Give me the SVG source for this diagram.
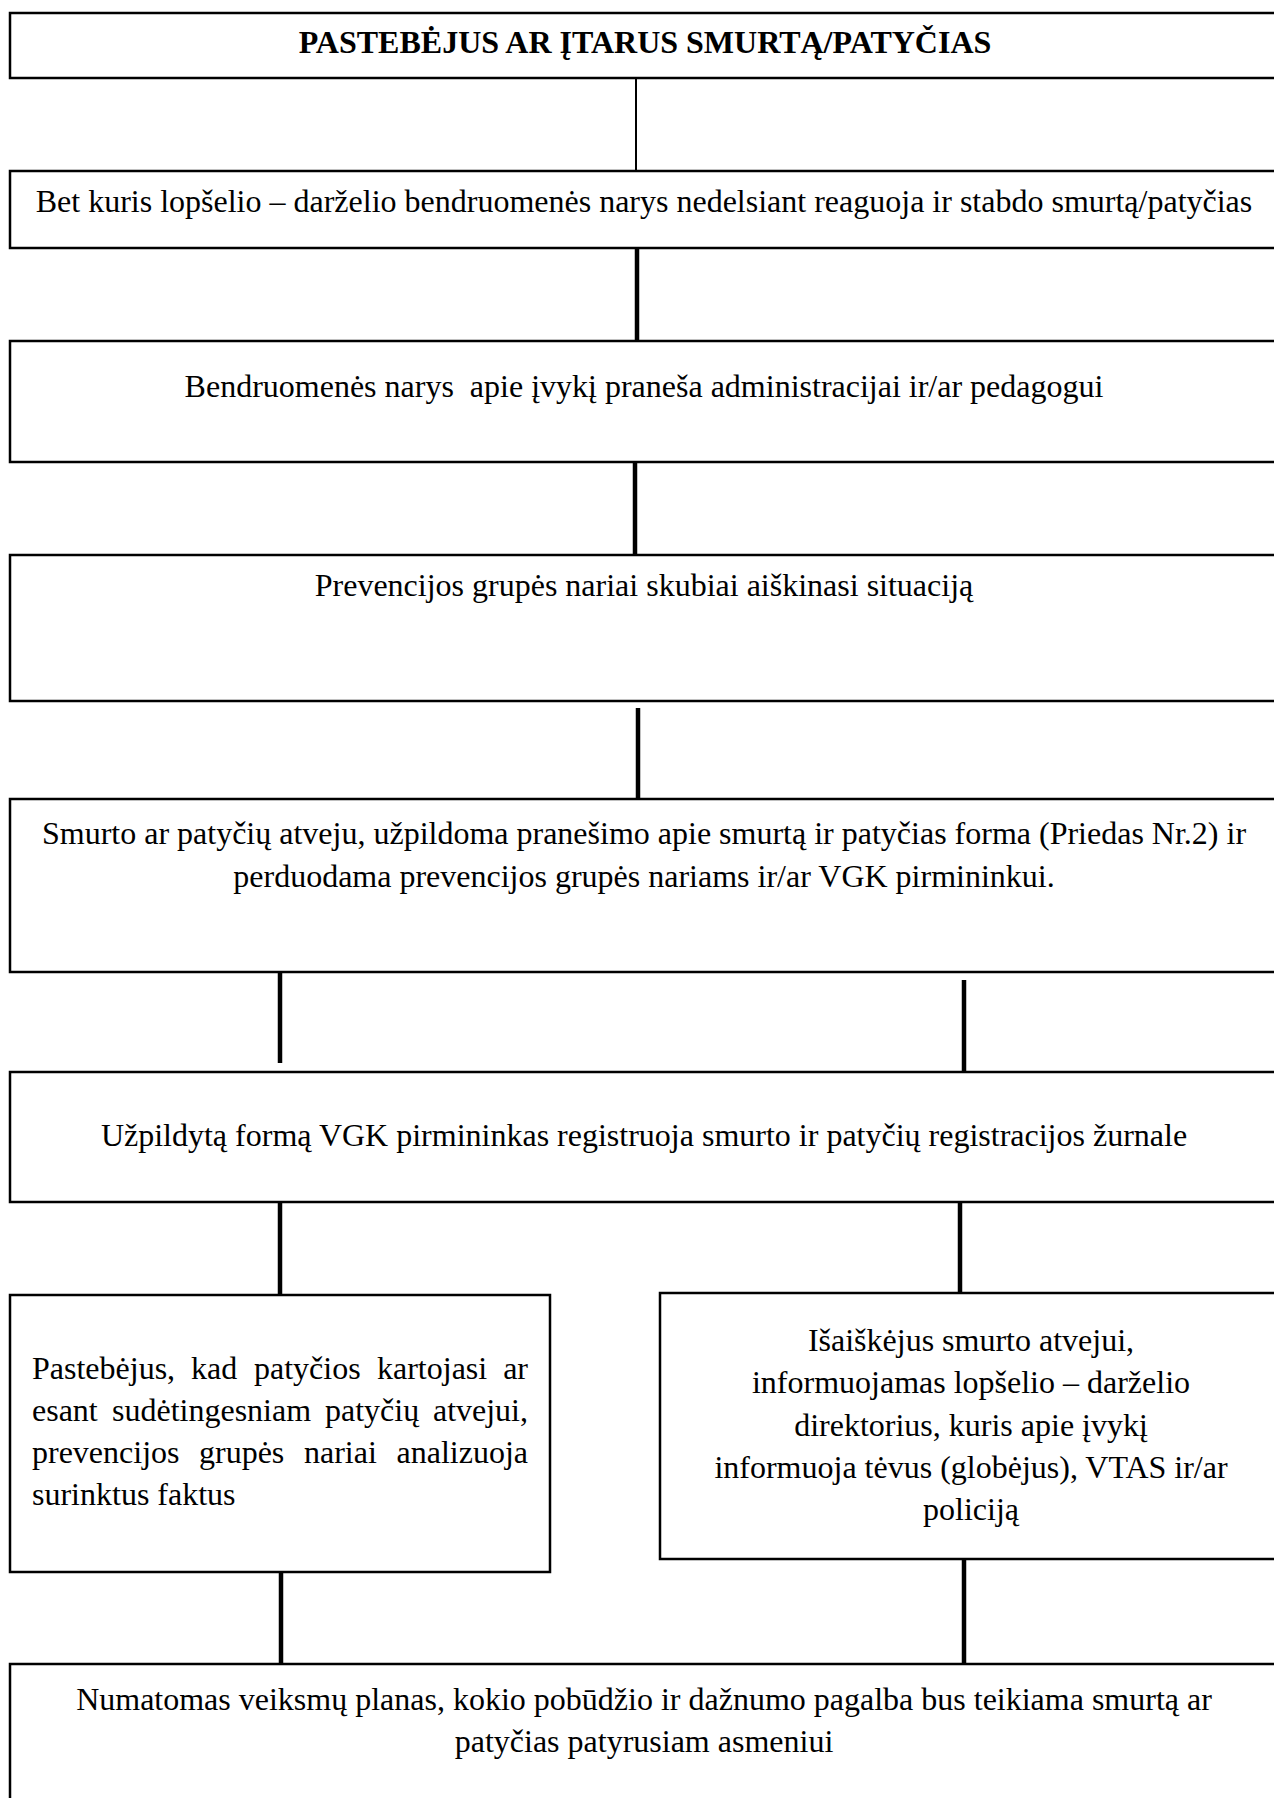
<svg xmlns="http://www.w3.org/2000/svg" width="1274" height="1798" viewBox="0 0 1274 1798">
<style>
.box{fill:#fff;stroke:#000;stroke-width:2.5}
.t{font-family:"Liberation Serif","Times New Roman",serif;font-size:32px;fill:#000}
.c{text-anchor:middle}
.b{font-weight:bold}
.ln{stroke:#000;stroke-width:4.5;fill:none}
.thin{stroke-width:2}
</style>
<rect width="1274" height="1798" fill="#fff"/>
<g id="connectors">
<line class="ln thin" x1="636" y1="78" x2="636" y2="171"/>
<line class="ln" x1="637" y1="248" x2="637" y2="341"/>
<line class="ln" x1="635" y1="462" x2="635" y2="555"/>
<line class="ln" x1="638" y1="708" x2="638" y2="799"/>
<line class="ln" x1="280" y1="972" x2="280" y2="1063"/>
<line class="ln" x1="964" y1="980" x2="964" y2="1072"/>
<line class="ln" x1="280" y1="1202" x2="280" y2="1295"/>
<line class="ln" x1="960" y1="1202" x2="960" y2="1293"/>
<line class="ln" x1="281" y1="1572" x2="281" y2="1664"/>
<line class="ln" x1="964" y1="1559" x2="964" y2="1664"/>
</g>
<g id="n1">
<rect class="box" x="10" y="13" width="1275" height="65"/>
<text class="t b c" x="645" y="53">PASTEBĖJUS AR ĮTARUS SMURTĄ/PATYČIAS</text>
</g>
<g id="n2">
<rect class="box" x="10" y="171" width="1275" height="77"/>
<text class="t c" x="644" y="212">Bet kuris lopšelio – darželio bendruomenės narys nedelsiant reaguoja ir stabdo smurtą/patyčias</text>
</g>
<g id="n3">
<rect class="box" x="10" y="341" width="1275" height="121"/>
<text class="t c" x="644" y="397" xml:space="preserve">Bendruomenės narys  apie įvykį praneša administracijai ir/ar pedagogui</text>
</g>
<g id="n4">
<rect class="box" x="10" y="555" width="1275" height="146"/>
<text class="t c" x="644" y="596">Prevencijos grupės nariai skubiai aiškinasi situaciją</text>
</g>
<g id="n5">
<rect class="box" x="10" y="799" width="1275" height="173"/>
<text class="t c" x="644" y="844">Smurto ar patyčių atveju, užpildoma pranešimo apie smurtą ir patyčias forma (Priedas Nr.2) ir</text>
<text class="t c" x="644" y="887">perduodama prevencijos grupės nariams ir/ar VGK pirmininkui.</text>
</g>
<g id="n6">
<rect class="box" x="10" y="1072" width="1275" height="130"/>
<text class="t c" x="644" y="1146">Užpildytą formą VGK pirmininkas registruoja smurto ir patyčių registracijos žurnale</text>
</g>
<g id="n7">
<rect class="box" x="10" y="1295" width="540" height="277"/>
<text class="t" y="1379"><tspan x="32">Pastebėjus,</tspan><tspan x="191">kad</tspan><tspan x="254">patyčios</tspan><tspan x="377">kartojasi</tspan><tspan x="528" text-anchor="end">ar</tspan></text>
<text class="t" y="1421"><tspan x="32">esant</tspan><tspan x="112">sudėtingesniam</tspan><tspan x="325">patyčių</tspan><tspan x="528" text-anchor="end">atvejui,</tspan></text>
<text class="t" y="1463"><tspan x="32">prevencijos</tspan><tspan x="199">grupės</tspan><tspan x="304">nariai</tspan><tspan x="528" text-anchor="end">analizuoja</tspan></text>
<text class="t" x="32" y="1505">surinktus faktus</text>
</g>
<g id="n8">
<rect class="box" x="660" y="1293" width="625" height="266"/>
<text class="t c" x="971" y="1351">Išaiškėjus smurto atvejui,</text>
<text class="t c" x="971" y="1393">informuojamas lopšelio – darželio</text>
<text class="t c" x="971" y="1436">direktorius, kuris apie įvykį</text>
<text class="t c" x="971" y="1478">informuoja tėvus (globėjus), VTAS ir/ar</text>
<text class="t c" x="971" y="1520">policiją</text>
</g>
<g id="n9">
<rect class="box" x="10" y="1664" width="1275" height="145"/>
<text class="t c" x="644" y="1710">Numatomas veiksmų planas, kokio pobūdžio ir dažnumo pagalba bus teikiama smurtą ar</text>
<text class="t c" x="644" y="1752">patyčias patyrusiam asmeniui</text>
</g>
</svg>
